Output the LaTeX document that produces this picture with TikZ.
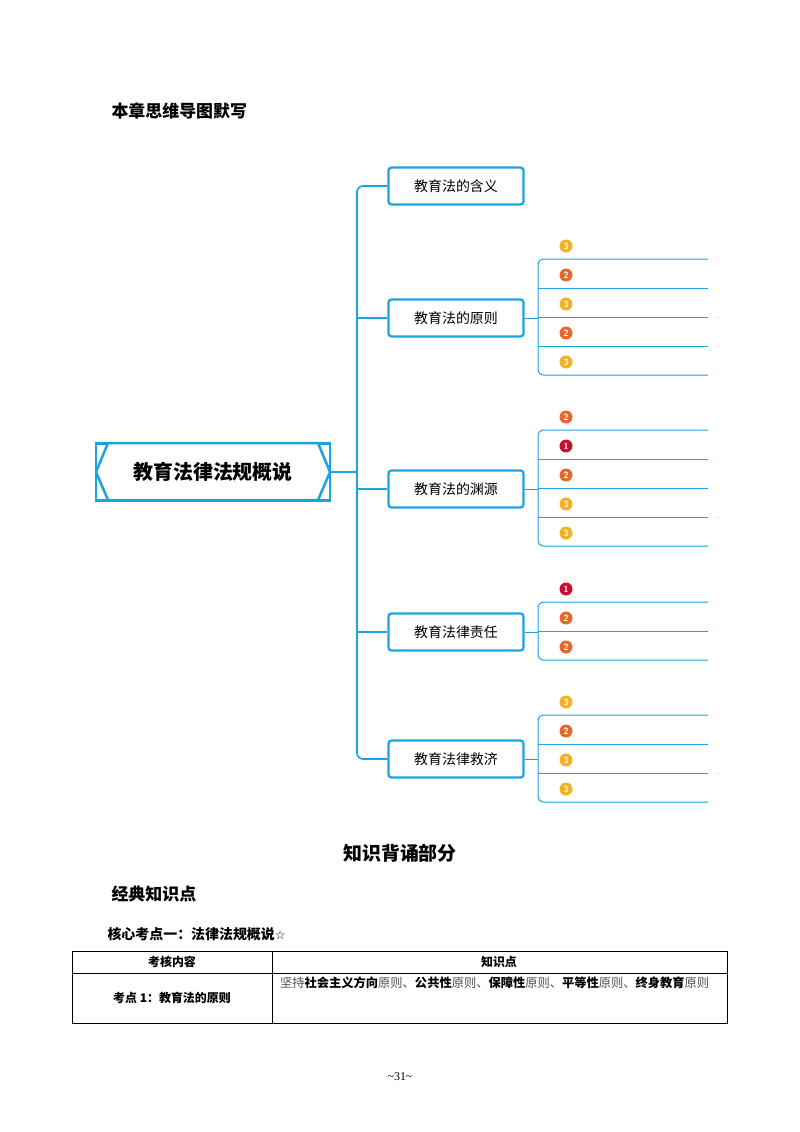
\documentclass[tikz,border=0pt]{standalone}
\usepackage{fontspec}
\setmainfont{Liberation Serif}
\newfontfamily\cjk{Noto Sans CJK SC}
\definecolor{mblue}{HTML}{1BA3E0}
\definecolor{bthree}{HTML}{F4B120}
\definecolor{btwo}{HTML}{E8682A}
\definecolor{bone}{HTML}{C8102E}
\begin{document}
\begin{tikzpicture}[x=1bp,y=-1bp,
  branch/.style={draw=mblue,line width=2.2bp,rounded corners=3bp,minimum width=135bp,minimum height=37bp,font=\cjk\fontsize{14}{16}\selectfont},
  conn/.style={draw=mblue,line width=1.6bp,rounded corners=6bp},
  sub/.style={draw=mblue,line width=1bp,rounded corners=5bp},
  badge/.style={circle,inner sep=0pt,minimum size=13bp,fill=#1,text=white,font=\sffamily\bfseries\fontsize{9}{9}\selectfont}]
\useasboundingbox (0,0) rectangle (800,1132);
\node[anchor=west,font=\cjk\bfseries\fontsize{17}{19}\selectfont] (title) at (108,111) {本章思维导图默写};
% main node
\node[draw=mblue,line width=2.5bp,fill=white,minimum width=234bp,minimum height=57bp,inner sep=0pt] (main) at (213,472) {};
\draw[mblue,line width=2.5bp,fill=white] (108,443) -- (318,443) -- (330,472) -- (318,500) -- (108,500) -- (96,472) -- cycle;
\node[font=\cjk\bfseries\fontsize{20}{22}\selectfont] (maintext) at (213,472) {教育法律法规概说};
\coordinate (mr) at (330,472);
\coordinate (tr) at (357,472);
\node[branch] (b1) at (456,186) {教育法的含义};
\node[branch] (b2) at (456,318) {教育法的原则};
\node[branch] (b3) at (456,489) {教育法的渊源};
\node[branch] (b4) at (456,632) {教育法律责任};
\node[branch] (b5) at (456,759) {教育法律救济};
\draw[conn] (mr) -- (tr);
\draw[conn] (b1.west) -| (tr) |- (b5.west);
\foreach \b in {b2,b3,b4} \draw[conn] (\b.west) -- (\b.west -| tr);
% sub branches
\newcommand\grp[4]{% node, first line y, last line y, list of lines
  \draw[sub] (708,#2) -- (538,#2) -- (538,#3) -- (708,#3);
  \foreach \yy in {#4} \draw[sub] (538,\yy) -- (708,\yy);
  \draw[sub] (#1.east) -- (538,#1.east |- 0,0);
}
\draw[sub] (708,259) -- (538,259) -- (538,375) -- (708,375);
\foreach \yy in {288,317,346} \draw[mblue,line width=1bp] (538,\yy) -- (708,\yy);
\draw[mblue,line width=1bp] (b2.east) -- (538,318);
\draw[sub] (708,430) -- (538,430) -- (538,546) -- (708,546);
\foreach \yy in {459,488,517} \draw[mblue,line width=1bp] (538,\yy) -- (708,\yy);
\draw[mblue,line width=1bp] (b3.east) -- (538,489);
\draw[sub] (708,602) -- (538,602) -- (538,660) -- (708,660);
\draw[mblue,line width=1bp] (538,631) -- (708,631);
\draw[mblue,line width=1bp] (b4.east) -- (538,632);
\draw[sub] (708,715) -- (538,715) -- (538,802) -- (708,802);
\foreach \yy in {744,773} \draw[mblue,line width=1bp] (538,\yy) -- (708,\yy);
\draw[mblue,line width=1bp] (b5.east) -- (538,759);
% badges
\foreach \yy/\c/\n [count=\i] in {246/bthree/3,275/btwo/2,304/bthree/3,333/btwo/2,362/bthree/3,
  417/btwo/2,446/bone/1,475/btwo/2,504/bthree/3,533/bthree/3,
  589/bone/1,618/btwo/2,647/btwo/2,
  702/bthree/3,731/btwo/2,760/bthree/3,789/bthree/3}
  \node[badge=\c] (bd\i) at (566,\yy) {\n};
% text part
\node[font=\cjk\bfseries\fontsize{19}{21}\selectfont] (h1) at (400,853) {知识背诵部分};
\node[anchor=west,font=\cjk\bfseries\fontsize{17}{19}\selectfont] (h2) at (108,894) {经典知识点};
\node[anchor=west,font=\cjk\bfseries\fontsize{14}{16}\selectfont] (h3) at (104,934) {核心考点一：法律法规概说{\fontspec{DejaVu Sans}\mdseries\fontsize{12}{12}\selectfont ☆}};
\draw[line width=0.6bp] (72,951) rectangle (727,1023);
\draw[line width=0.6bp] (72,973) -- (727,973);
\draw[line width=0.6bp] (272,951) -- (272,1023);
\node[font=\cjk\bfseries\fontsize{12}{14}\selectfont] (c1) at (172,962) {考核内容};
\node[font=\cjk\bfseries\fontsize{12}{14}\selectfont] (c2) at (499,962) {知识点};
\node[font=\cjk\bfseries\fontsize{12}{14}\selectfont] (c3) at (172,998) {考点 1：教育法的原则};
\node[anchor=north west,text width=448bp,inner sep=0pt,font=\cjk\fontsize{12.3}{22}\selectfont,text=black!70] (c4) at (280,977) {坚持{\color{black}\bfseries 社会主义方向}原则、{\color{black}\bfseries 公共性}原则、{\color{black}\bfseries 保障性}原则、{\color{black}\bfseries 平等性}原则、{\color{black}\bfseries 终身教育}原则};
\node[font=\fontsize{12}{14}\selectfont] (pg) at (400,1077) {\textasciitilde31\textasciitilde};
\end{tikzpicture}
\end{document}
